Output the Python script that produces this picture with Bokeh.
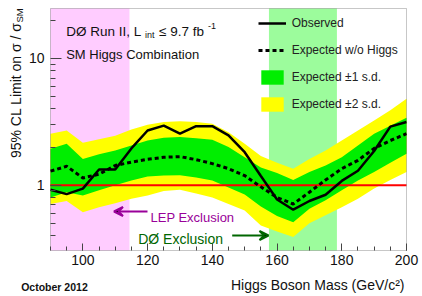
import math
from bokeh.plotting import figure
from bokeh.models import (Range1d, FixedTicker, BoxAnnotation, Label, Arrow, VeeHead,
                          Legend, LegendItem)
from bokeh.embed import file_html
from bokeh.resources import INLINE

# ---------------- data ----------------
mass = [90, 95, 100, 105, 110, 115, 120, 125, 130, 135, 140, 145,
        150, 155, 160, 165, 170, 175, 180, 185, 190, 195, 200]
observed = [0.92, 0.85, 0.94, 1.33, 1.33, 1.95, 2.70, 2.95, 2.55, 2.92, 2.92, 2.47,
            1.82, 1.18, 0.77, 0.64, 0.75, 0.84, 1.08, 1.30, 1.86, 2.90, 3.15]
expected = [1.29, 1.41, 1.14, 1.22, 1.43, 1.52, 1.60, 1.66, 1.68, 1.59, 1.48, 1.35,
            1.19, 0.97, 0.80, 0.71, 0.88, 1.10, 1.35, 1.57, 1.95, 2.25, 2.55]
band1_hi = [1.94, 2.12, 1.61, 1.75, 1.88, 2.06, 2.25, 2.37, 2.40, 2.35, 2.28, 2.00,
            1.66, 1.38, 1.25, 1.10, 1.27, 1.43, 1.66, 2.06, 2.55, 2.95, 3.40]
band1_lo = [0.80, 0.88, 0.83, 0.91, 1.00, 1.09, 1.17, 1.19, 1.20, 1.15, 1.09, 0.96,
            0.845, 0.68, 0.57, 0.51, 0.65, 0.76, 0.91, 1.09, 1.27, 1.50, 1.77]
band2_hi = [2.55, 2.70, 2.16, 2.30, 2.45, 2.75, 3.00, 3.15, 3.20, 3.15, 3.05, 2.62,
            2.12, 1.70, 1.50, 1.35, 1.61, 1.88, 2.25, 2.70, 3.24, 3.90, 4.80]
band2_lo = [0.71, 0.75, 0.61, 0.67, 0.72, 0.78, 0.83, 0.90, 0.92, 0.86, 0.80, 0.71,
            0.63, 0.48, 0.43, 0.39, 0.50, 0.58, 0.67, 0.78, 0.94, 1.10, 1.27]
sm_ref = 1.0
lep_excl = (90, 114.4)
d0_excl = (157.5, 178.5)

x_ticks = [100, 120, 140, 160, 180, 200]
x_tick_labels = ["100", "120", "140", "160", "180", "200"]
x_minor = [90, 95, 100, 105, 110, 115, 120, 125, 130, 135, 140, 145, 150, 155,
           160, 165, 170, 175, 180, 185, 190, 195, 200]
y_ticks = [1, 10]
y_tick_labels = ["1", "10"]
y_minor = [0.4, 0.5, 0.6, 0.7, 0.8, 0.9, 2, 3, 4, 5, 6, 7, 8, 9, 20]

X0, X1 = 90, 200          # plotted mass range
Y0, Y1 = 0.305, 24.8      # plotted limit range (log)

FONT = "Liberation Sans"
W, H = 422, 296
# plot box in canvas px (the frame itself covers the whole canvas)
BL, BR, BT, BB = 50, 406, 8, 250
LY0, LY1 = math.log10(Y0), math.log10(Y1)


def cx(px):   # canvas px -> data x
    return X0 + (px - BL) / (BR - BL) * (X1 - X0)


def cy(py):   # canvas px -> data y
    return 10 ** (LY0 + (BB - py) / (BB - BT) * (LY1 - LY0))


p = figure(width=W, height=H, output_backend="svg", toolbar_location=None,
           title_location=None,
           x_range=Range1d(cx(0), cx(W)), y_range=Range1d(cy(H), cy(0)),
           y_axis_type="log", min_border=0)
p.grid.visible = False
p.outline_line_color = None

# exclusion regions
p.add_layout(BoxAnnotation(left=lep_excl[0], right=lep_excl[1], bottom=Y0, top=Y1,
                           fill_color="#ffccff", fill_alpha=1, line_color=None,
                           level="underlay"))
p.add_layout(BoxAnnotation(left=d0_excl[0], right=d0_excl[1], bottom=Y0, top=Y1,
                           fill_color="#9cfc9c", fill_alpha=1, line_color=None,
                           level="underlay"))

# bands
r_y = p.varea(x=mass, y1=band2_lo, y2=band2_hi, fill_color="#ffff00")
r_g = p.varea(x=mass, y1=band1_lo, y2=band1_hi, fill_color="#00ee00")
r_yk = p.quad(left=[], right=[], top=[], bottom=[], fill_color="#ffff00",
              line_color="#333333", line_width=1)
r_gk = p.quad(left=[], right=[], top=[], bottom=[], fill_color="#00ee00",
              line_color="#333333", line_width=1)

# SM reference line
p.line(x=[X0, X1], y=[sm_ref, sm_ref], line_color="#ff0000", line_width=2)

r_exp = p.line(x=mass, y=expected, line_color="black", line_width=3, line_dash="4 3")
r_obs = p.line(x=mass, y=observed, line_color="black", line_width=2.5)

# plot box outline
p.add_layout(BoxAnnotation(left=X0, right=X1, bottom=Y0, top=Y1, fill_alpha=0,
                           line_color="#444444", line_width=1))

leg_h = 4 * 18 + 3 * 9
legend = Legend(items=[
    LegendItem(label="Observed", renderers=[r_obs]),
    LegendItem(label="Expected w/o Higgs", renderers=[r_exp]),
    LegendItem(label="Expected \u00b11 s.d.", renderers=[r_g, r_gk]),
    LegendItem(label="Expected \u00b12 s.d.", renderers=[r_y, r_yk]),
], location=(257.7, H - 13.7 - leg_h), glyph_width=28, glyph_height=18,
    label_height=18, label_standoff=6, spacing=9, padding=0, margin=0,
    border_line_color=None, background_fill_alpha=0, label_text_font=FONT,
    label_text_font_size="12px", label_text_color="#222222")
p.add_layout(legend)

# axes, pinned to the plot box edges
p.xaxis.fixed_location = Y0
p.yaxis.fixed_location = X0
p.xaxis.ticker = FixedTicker(ticks=x_ticks, minor_ticks=x_minor)
p.yaxis.ticker = FixedTicker(ticks=y_ticks, minor_ticks=y_minor)
p.xaxis.major_label_overrides = dict(zip(x_ticks, x_tick_labels))
p.yaxis.major_label_overrides = dict(zip(y_ticks, y_tick_labels))
for ax in (p.xaxis, p.yaxis):
    ax.axis_line_color = None
    ax.major_tick_line_color = "#444444"
    ax.minor_tick_line_color = "#444444"
    ax.major_tick_out = 0
    ax.minor_tick_out = 0
    ax.major_label_text_font = FONT
    ax.major_label_text_font_size = "14px"
    ax.major_label_text_color = "#111111"
p.xaxis.major_tick_in = 7
p.xaxis.minor_tick_in = 4
p.yaxis.major_tick_in = 11
p.yaxis.minor_tick_in = 5
p.xaxis.major_label_standoff = 4
p.yaxis.major_label_standoff = 6


def lab(text, px, py, size, color="#111111", align="left", angle=0.0, style="normal"):
    p.add_layout(Label(x=cx(px), y=cy(py), text=text, text_font=FONT,
                       text_font_size=f"{size}px", text_color=color, text_align=align,
                       text_baseline="alphabetic", angle=angle, text_font_style=style))


# texts inside the plot box
lab("D\u00d8 Run II, L", 65.7, 30.7, 13.5)
lab("int", 144.5, 34.5, 9)
lab("\u2264 9.7 fb", 158.5, 30.7, 13.5)
lab("-1", 207.5, 25, 9)
lab("SM Higgs Combination", 65.7, 54, 13)

lab("LEP Exclusion", 150, 216.7, 13, color="#990099")
lab("D\u00d8 Exclusion", 137.7, 238.3, 14, color="#006600")

p.add_layout(Arrow(end=VeeHead(size=9, line_color="#990099", line_width=2),
                   x_start=cx(147), y_start=cy(211), x_end=cx(113.5), y_end=cy(211),
                   line_color="#990099", line_width=2))
p.add_layout(Arrow(end=VeeHead(size=9, line_color="#006600", line_width=2),
                   x_start=cx(231.7), y_start=cy(235), x_end=cx(268), y_end=cy(235),
                   line_color="#006600", line_width=2))

# axis titles and date (outside the plot box)
lab("95% CL Limit on \u03c3 / \u03c3", 15, 22, 14, align="right", angle=math.pi / 2)
lab("SM", 18.5, 22, 9.5, angle=math.pi / 2)
lab("Higgs Boson Mass (GeV/c\u00b2)", 404, 284, 14, align="right")
lab("October 2012", 20.7, 286.7, 10.5, style="bold")

open("out.html", "w").write(file_html(p, INLINE))
